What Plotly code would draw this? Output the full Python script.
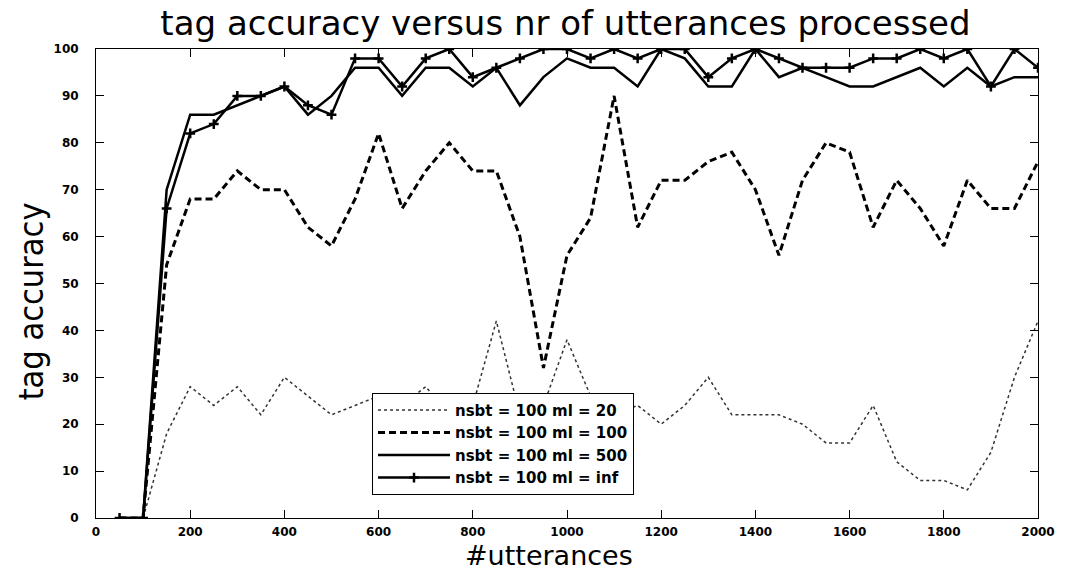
import plotly.graph_objects as go

utterances = [50, 100, 150, 200, 250, 300, 350, 400, 450, 500,
              550, 600, 650, 700, 750, 800, 850, 900, 950, 1000,
              1050, 1100, 1150, 1200, 1250, 1300, 1350, 1400, 1450, 1500,
              1550, 1600, 1650, 1700, 1750, 1800, 1850, 1900, 1950, 2000]

acc_ml20 = [0, 0, 18, 28, 24, 28, 22, 30, 26, 22,
            24, 26, 24, 28, 22, 24, 42, 22, 24, 38,
            26, 22, 24, 20, 24, 30, 22, 22, 22, 20,
            16, 16, 24, 12, 8, 8, 6, 14, 30, 42]

acc_ml100 = [0, 0, 54, 68, 68, 74, 70, 70, 62, 58,
             68, 82, 66, 74, 80, 74, 74, 60, 32, 56,
             64, 90, 62, 72, 72, 76, 78, 70, 56, 72,
             80, 78, 62, 72, 66, 58, 72, 66, 66, 76]

acc_ml500 = [0, 0, 70, 86, 86, 88, 90, 92, 86, 90,
             96, 96, 90, 96, 96, 92, 96, 88, 94, 98,
             96, 96, 92, 100, 98, 92, 92, 100, 94, 96,
             94, 92, 92, 94, 96, 92, 96, 92, 94, 94]

acc_inf = [0, 0, 66, 82, 84, 90, 90, 92, 88, 86,
           98, 98, 92, 98, 100, 94, 96, 98, 100, 100,
           98, 100, 98, 100, 100, 94, 98, 100, 98, 96,
           96, 96, 98, 98, 100, 98, 100, 92, 100, 96]

series_names = ["nsbt = 100 ml = 20", "nsbt = 100 ml = 100",
                "nsbt = 100 ml = 500", "nsbt = 100 ml = inf"]

x_ticks = [0, 200, 400, 600, 800, 1000, 1200, 1400, 1600, 1800, 2000]
y_ticks = [0, 10, 20, 30, 40, 50, 60, 70, 80, 90, 100]

fig = go.Figure()
fig.add_trace(go.Scatter(x=utterances, y=acc_ml20, mode="lines", name=series_names[0],
                         line=dict(color="#333", width=1.5, dash="dot")))
fig.add_trace(go.Scatter(x=utterances, y=acc_ml100, mode="lines", name=series_names[1],
                         line=dict(color="black", width=3, dash="7px,4px")))
fig.add_trace(go.Scatter(x=utterances, y=acc_ml500, mode="lines", name=series_names[2],
                         line=dict(color="black", width=2.5)))
fig.add_trace(go.Scatter(x=utterances, y=acc_inf, mode="lines+markers", name=series_names[3],
                         line=dict(color="black", width=2.5),
                         marker=dict(symbol="cross-thin", size=7,
                                     line=dict(color="black", width=2.5))))

axis_common = dict(showgrid=False, zeroline=False, showline=True, linecolor="black",
                   linewidth=1, mirror="ticks", ticks="inside", ticklen=8,
                   tickcolor="black", tickwidth=1,
                   tickfont=dict(family="DejaVu Sans", size=12, color="black", weight="bold"))

fig.update_xaxes(range=[0, 2000], tickvals=x_ticks, ticklabelstandoff=3, **axis_common)
fig.update_yaxes(range=[0, 100], tickvals=y_ticks, ticklabelstandoff=14, **axis_common)

fig.add_annotation(text="#utterances", xref="paper", yref="paper", x=0.4805, y=-0.081,
                   xanchor="center", yanchor="middle", showarrow=False,
                   font=dict(family="DejaVu Sans", size=27, color="black"))
fig.add_annotation(text="tag accuracy", xref="paper", yref="paper", x=-0.0686, y=0.4627,
                   xanchor="center", yanchor="middle", showarrow=False, textangle=-90,
                   font=dict(family="DejaVu Sans Condensed, Liberation Sans", size=34,
                             color="black"))

fig.update_layout(
    width=1067, height=570,
    margin=dict(l=96, r=24, t=49, b=52),
    paper_bgcolor="white", plot_bgcolor="white",
    title=dict(text="tag accuracy versus nr of utterances processed",
               x=565.5 / 1067, xanchor="center", y=1 - 23 / 570, yanchor="middle",
               yref="container",
               font=dict(family="DejaVu Sans", size=34, color="black")),
    legend=dict(x=0.293, y=0.267, xanchor="left", yanchor="top",
                bgcolor="white", bordercolor="black", borderwidth=1,
                font=dict(family="DejaVu Sans", size=15, color="black", weight="bold"),
                itemwidth=72, tracegroupgap=0),
    showlegend=True,
)

fig.write_html("out.html", config={"displayModeBar": False},
               post_script="document.body.style.margin='0px';"
                           "document.body.style.padding='0px';"
                           "document.body.style.overflow='hidden';")
